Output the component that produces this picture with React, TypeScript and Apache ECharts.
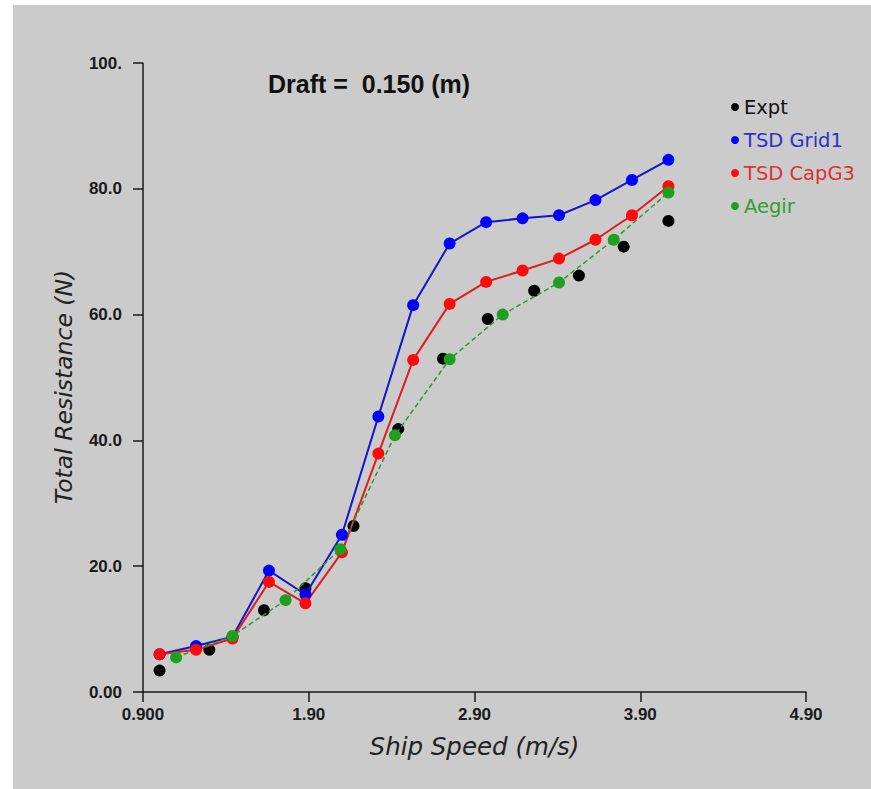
import { useEffect, useRef } from "react";
import * as echarts from "echarts";

// ---- data ----
const xTickLabels = ["0.900", "1.90", "2.90", "3.90", "4.90"];
const yTickLabels = ["0.00", "20.0", "40.0", "60.0", "80.0", "100."];

const exptSpeed = [1.0, 1.3, 1.63, 1.88, 2.17, 2.44, 2.71, 2.98, 3.26, 3.53, 3.8, 4.07];
const exptResistance = [3.4, 6.7, 13.0, 16.5, 26.4, 41.8, 53.0, 59.3, 63.8, 66.2, 70.8, 74.9];

const tsdSpeed = [1.0, 1.22, 1.44, 1.66, 1.88, 2.1, 2.32, 2.53, 2.75, 2.97, 3.19, 3.41, 3.63, 3.85, 4.07];
const grid1Resistance = [6.0, 7.3, 8.8, 19.3, 15.5, 25.0, 43.8, 61.5, 71.3, 74.7, 75.3, 75.8, 78.2, 81.4, 84.6];
const capG3Resistance = [6.0, 6.7, 8.5, 17.5, 14.1, 22.2, 37.9, 52.8, 61.7, 65.2, 67.0, 68.9, 71.9, 75.8, 80.4];

const aegirSpeed = [1.1, 1.44, 1.76, 2.09, 2.42, 2.75, 3.07, 3.41, 3.74, 4.07];
const aegirResistance = [5.5, 8.9, 14.6, 22.7, 40.8, 52.9, 60.0, 65.1, 71.9, 79.4];

const pairs = (xs: number[], ys: number[]) => xs.map((x, i) => [x, ys[i]]);

export default function App() {
  const ref = useRef<HTMLDivElement>(null);

  useEffect(() => {
    if (!ref.current) return;
    const chart = echarts.init(ref.current, undefined, { renderer: "svg" });
    const labelFont = "Liberation Sans";
    const textFont = "DejaVu Sans";
    chart.setOption({
      animation: false,
      backgroundColor: "#ffffff",
      title: {
        text: "Draft =  0.150 (m)",
        left: 268,
        top: 71,
        padding: 0,
        textStyle: { fontFamily: labelFont, fontWeight: "bold", fontSize: 25, color: "#111111" },
      },
      legend: {
        orient: "vertical",
        left: 726,
        top: 92,
        itemWidth: 8,
        itemHeight: 8,
        itemGap: 13,
        icon: "circle",
        selectedMode: false,
        textStyle: { fontFamily: textFont, fontSize: 19.5 },
        data: [
          { name: "Expt", textStyle: { color: "#111111" } },
          { name: "TSD Grid1", textStyle: { color: "#3030c8" } },
          { name: "TSD CapG3", textStyle: { color: "#dc3232" } },
          { name: "Aegir", textStyle: { color: "#2ea02e" } },
        ],
      },
      grid: { left: 143, top: 63, right: 65, bottom: 97, containLabel: false, outerBoundsMode: "none" },
      graphic: [
        {
          type: "rect",
          z: -10,
          silent: true,
          shape: { x: 13, y: 5, width: 858, height: 784 },
          style: { fill: "#cbcbcb" },
        },
        {
          type: "text",
          x: 64,
          y: 387,
          rotation: Math.PI / 2,
          silent: true,
          style: {
            text: "Total Resistance (N)",
            fontFamily: textFont,
            fontStyle: "italic",
            fontSize: 23.5,
            fill: "#222222",
            align: "center",
            verticalAlign: "middle",
          },
        },
      ],
      xAxis: {
        type: "value",
        min: 0.9,
        max: 4.9,
        interval: 1,
        name: "Ship Speed (m/s)",
        nameLocation: "middle",
        nameGap: 42,
        nameTextStyle: { fontFamily: textFont, fontStyle: "italic", fontSize: 24.5, color: "#222222" },
        axisLine: { show: true, onZero: false, lineStyle: { color: "#1a1a1a", width: 1.5 } },
        axisTick: { show: true, inside: false, length: 10, lineStyle: { color: "#1a1a1a", width: 1.5 } },
        axisLabel: {
          margin: 14,
          fontFamily: labelFont,
          fontWeight: "bold",
          fontSize: 17,
          color: "#1a1a1a",
          formatter: (v: number) => xTickLabels[Math.round(v - 0.9)] ?? "",
        },
        splitLine: { show: false },
      },
      yAxis: {
        type: "value",
        min: 0,
        max: 100,
        interval: 20,
        axisLine: { show: true, onZero: false, lineStyle: { color: "#1a1a1a", width: 1.5 } },
        axisTick: { show: true, inside: false, length: 10, lineStyle: { color: "#1a1a1a", width: 1.5 } },
        axisLabel: {
          margin: 21,
          fontFamily: labelFont,
          fontWeight: "bold",
          fontSize: 17,
          color: "#1a1a1a",
          formatter: (v: number) => yTickLabels[Math.round(v / 20)] ?? "",
        },
        splitLine: { show: false },
      },
      series: [
        {
          name: "TSD Grid1",
          type: "line",
          data: pairs(tsdSpeed, grid1Resistance),
          symbol: "circle",
          symbolSize: 12,
          itemStyle: { color: "#0000ff", opacity: 1 },
          lineStyle: { color: "#1414c8", width: 2 },
          emphasis: { disabled: true },
        },
        {
          name: "TSD CapG3",
          type: "line",
          data: pairs(tsdSpeed, capG3Resistance),
          symbol: "circle",
          symbolSize: 12,
          itemStyle: { color: "#ff0a0a", opacity: 1 },
          lineStyle: { color: "#dc1e1e", width: 2 },
          emphasis: { disabled: true },
        },
        {
          name: "Expt",
          type: "scatter",
          data: pairs(exptSpeed, exptResistance),
          symbol: "circle",
          symbolSize: 12,
          itemStyle: { color: "#000000", opacity: 1 },
          emphasis: { disabled: true },
        },
        {
          name: "Aegir",
          type: "line",
          data: pairs(aegirSpeed, aegirResistance),
          symbol: "circle",
          symbolSize: 12,
          itemStyle: { color: "#1f9f1f", opacity: 1 },
          lineStyle: { color: "#2e9a2e", width: 1.5, type: [5, 3] },
          emphasis: { disabled: true },
        },
      ],
    });
    return () => chart.dispose();
  }, []);

  return (
    <div
      ref={ref}
      style={{ position: "absolute", left: 0, top: 0, width: 871, height: 789 }}
    />
  );
}
